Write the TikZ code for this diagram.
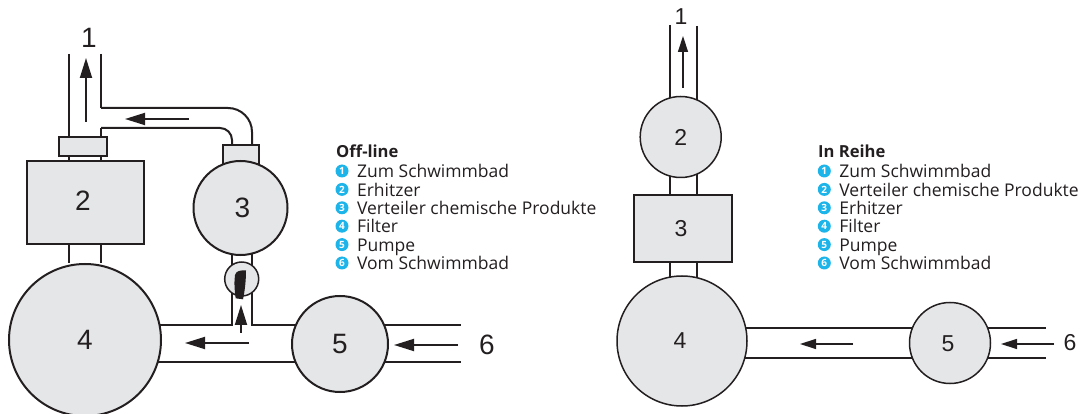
\documentclass[tikz,border=0pt]{standalone}
\usepackage{fontspec}
\setmainfont{Open Sans}
\newfontfamily\numfont{Liberation Sans}
\usetikzlibrary{arrows.meta,positioning,backgrounds}
\definecolor{ink}{HTML}{231F20}
\definecolor{shell}{HTML}{E5E6E8}
\definecolor{dot}{HTML}{1DB4EA}
\begin{document}
\begin{tikzpicture}[x=1pt,y=-1pt,node distance=18.4pt,>={Triangle[length=20pt,width=12pt]}]
  \tikzstyle{vessel}=[circle,draw=ink,fill=shell,line width=2pt,inner sep=0pt,text=ink,font=\numfont\fontsize{28}{28}\selectfont]
  \tikzstyle{tank}=[rectangle,draw=ink,fill=shell,line width=2pt,inner sep=0pt,text=ink,font=\numfont\fontsize{28}{28}\selectfont]
  \tikzstyle{small vessel}=[vessel,line width=1.5pt,font=\numfont\fontsize{23}{23}\selectfont]
  \tikzstyle{small tank}=[tank,line width=1.6pt,font=\numfont\fontsize{23}{23}\selectfont]
  \tikzstyle{pipe}=[draw=ink,line width=2pt]
  \tikzstyle{small pipe}=[draw=ink,line width=1.5pt]
  \tikzstyle{flow}=[->,draw=ink,fill=ink,line width=1.8pt]
  \tikzstyle{small flow}=[flow,line width=1.4pt,>={Triangle[length=16pt,width=10pt]}]
  \tikzstyle{num}=[text=ink,inner sep=0pt,font=\numfont\fontsize{28}{28}\selectfont]
  \tikzstyle{small num}=[num,font=\numfont\fontsize{23}{23}\selectfont]
  \tikzstyle{bullet}=[circle,fill=dot,minimum size=13pt,inner sep=0pt,text=white,font=\bfseries\fontsize{10}{10}\selectfont]
  \tikzstyle{item}=[anchor=west,inner sep=0pt,text=ink,text height=16pt,text depth=2.6pt,font=\fontsize{17.5}{17.5}\selectfont]
  \tikzstyle{heading}=[anchor=base west,inner sep=0pt,text=ink,font=\bfseries\fontsize{16.6}{16.6}\selectfont]

  \useasboundingbox (0,0) rectangle (1080,414);

  % off-line
  \node [tank,minimum width=48pt,minimum height=19pt] (cap) at (83,146.5) {};
  \node [tank,minimum width=117pt,minimum height=83pt,label={[num,xshift=-2pt,yshift=2pt]center:2}] (heater) at (85,203) {};
  \node [tank,minimum width=36pt,minimum height=28pt] (head) at (240.5,159) {};
  \node [vessel,minimum size=94pt,label={[num,xshift=2pt]center:3}] (dist) at (240.5,208) {};
  \node [vessel,minimum size=152pt] (filter) at (85,340) {4};
  \node [vessel,minimum size=96pt] (pump) at (340,344) {5};
  \node [vessel,minimum size=34pt,line width=1.5pt] (valve) at (241.7,279) {};
  \node [num] (out) at (89,38) {1};
  \node [num] (in) at (487,345) {6};

  \coordinate (al) at (69,54);
  \coordinate (ar) at (101,54);
  \coordinate (bend) at (252,108);
  \coordinate (inner) at (232,128);
  \coordinate (ha) at (85,325);
  \coordinate (hb) at (85,362);
  \coordinate (ea) at (461,325);
  \coordinate (eb) at (461,362);

  \begin{pgfonlayer}{background}
    \draw [pipe] (al) -- (al |- cap.north);
    \draw [pipe] (ar) -- (ar |- bend);
    \draw [pipe,rounded corners=24pt] (ar |- bend) -- (bend) -- (bend |- head.north);
    \draw [pipe] (ar |- cap.north) -- (ar |- inner);
    \draw [pipe,rounded corners=12pt] (ar |- inner) -- (inner) -- (inner |- head.north);
    \draw [pipe] (al |- cap.south) -- (al |- heater.north);
    \draw [pipe] (ar |- cap.south) -- (ar |- heater.north);
    \draw [pipe] (al |- heater.south) -- (al |- filter.north);
    \draw [pipe] (ar |- heater.south) -- (ar |- filter.north);
    \draw [pipe] (ha) -- (ha -| inner) -- (inner |- dist);
    \draw [pipe] (ha -| pump) -- (ha -| bend) -- (bend |- dist);
    \draw [pipe] (hb) -- (eb);
    \draw [pipe] (ha -| pump) -- (ea);
  \end{pgfonlayer}

  \fill [ink] (235,275) .. controls (236,271) and (240,270) .. (246,270.5) .. controls (246,280) and (245,290) .. (243,299.3) -- (235.7,298.3) .. controls (234.5,290) and (234,282) .. (235,275) -- cycle;

  \coordinate (f1s) at (86,122);
  \coordinate (f1e) at (86,58);
  \coordinate (f2s) at (189,119);
  \coordinate (f2e) at (125,119);
  \coordinate (f3s) at (241,333);
  \coordinate (f3e) at (241,305);
  \coordinate (f4s) at (249,343);
  \coordinate (f4e) at (185,343);
  \coordinate (f5s) at (458,345);
  \coordinate (f5e) at (394,345);
  \draw [flow] (f1s) -- (f1e);
  \draw [flow] (f2s) -- (f2e);
  \draw [flow] (f3s) -- (f3e);
  \draw [flow] (f4s) -- (f4e);
  \draw [flow] (f5s) -- (f5e);

  \node [heading] (offtitle) at (336,158) {Off-line};
  \node [bullet] (o1) at (342,171) {1};
  \node [bullet] (o2) [below of=o1] {2};
  \node [bullet] (o3) [below of=o2] {3};
  \node [bullet] (o4) [below of=o3] {4};
  \node [bullet] (o5) [below of=o4] {5};
  \node [bullet] (o6) [below of=o5] {6};
  \node [item] (ot1) [right=8.2pt of o1] {Zum Schwimmbad};
  \node [item] (ot2) [right=8.2pt of o2] {Erhitzer};
  \node [item] (ot3) [right=8.2pt of o3] {Verteiler chemische Produkte};
  \node [item] (ot4) [right=8.2pt of o4] {Filter};
  \node [item] (ot5) [right=8.2pt of o5] {Pumpe};
  \node [item] (ot6) [right=8.2pt of o6] {Vom Schwimmbad};

  % in reihe
  \node [small vessel,minimum size=81pt] (rdist) at (680.7,137) {2};
  \node [small tank,minimum width=98pt,minimum height=67pt,label={[small num,xshift=-2pt]center:3}] (rheater) at (683,228.5) {};
  \node [small vessel,minimum size=130pt,label={[small num,xshift=-2pt]center:4}] (rfilter) at (682,341) {};
  \node [small vessel,minimum size=81pt,label={[small num,xshift=-2pt,yshift=-1pt]center:5}] (rpump) at (950,343) {};
  \node [small num] (rout) at (681,17) {1};
  \node [small num] (rin) at (1070,343) {6};

  \coordinate (cl) at (670,25);
  \coordinate (cr) at (697,26);
  \coordinate (ra) at (700,328);
  \coordinate (rb) at (700,358);
  \coordinate (sa) at (1046,328);
  \coordinate (sb) at (1046,358);

  \begin{pgfonlayer}{background}
    \draw [small pipe] (cl) -- (cl |- rdist);
    \draw [small pipe] (cr) -- (cr |- rdist);
    \draw [small pipe] (cl |- rdist) -- (cl |- rheater);
    \draw [small pipe] (cr |- rdist) -- (cr |- rheater);
    \draw [small pipe] (cl |- rheater) -- (cl |- rfilter);
    \draw [small pipe] (cr |- rheater) -- (cr |- rfilter);
    \draw [small pipe] (ra) -- (sa);
    \draw [small pipe] (rb) -- (sb);
  \end{pgfonlayer}

  \coordinate (r1s) at (683,88);
  \coordinate (r1e) at (683,36);
  \coordinate (r2s) at (853,344);
  \coordinate (r2e) at (800,344);
  \coordinate (r3s) at (1054,344);
  \coordinate (r3e) at (1001,344);
  \draw [small flow] (r1s) -- (r1e);
  \draw [small flow] (r2s) -- (r2e);
  \draw [small flow] (r3s) -- (r3e);

  \node [heading] (intitle) at (818,158) {In Reihe};
  \node [bullet] (i1) at (824.3,171) {1};
  \node [bullet] (i2) [below of=i1] {2};
  \node [bullet] (i3) [below of=i2] {3};
  \node [bullet] (i4) [below of=i3] {4};
  \node [bullet] (i5) [below of=i4] {5};
  \node [bullet] (i6) [below of=i5] {6};
  \node [item] (it1) [right=8.2pt of i1] {Zum Schwimmbad};
  \node [item] (it2) [right=8.2pt of i2] {Verteiler chemische Produkte};
  \node [item] (it3) [right=8.2pt of i3] {Erhitzer};
  \node [item] (it4) [right=8.2pt of i4] {Filter};
  \node [item] (it5) [right=8.2pt of i5] {Pumpe};
  \node [item] (it6) [right=8.2pt of i6] {Vom Schwimmbad};
\end{tikzpicture}
\end{document}
